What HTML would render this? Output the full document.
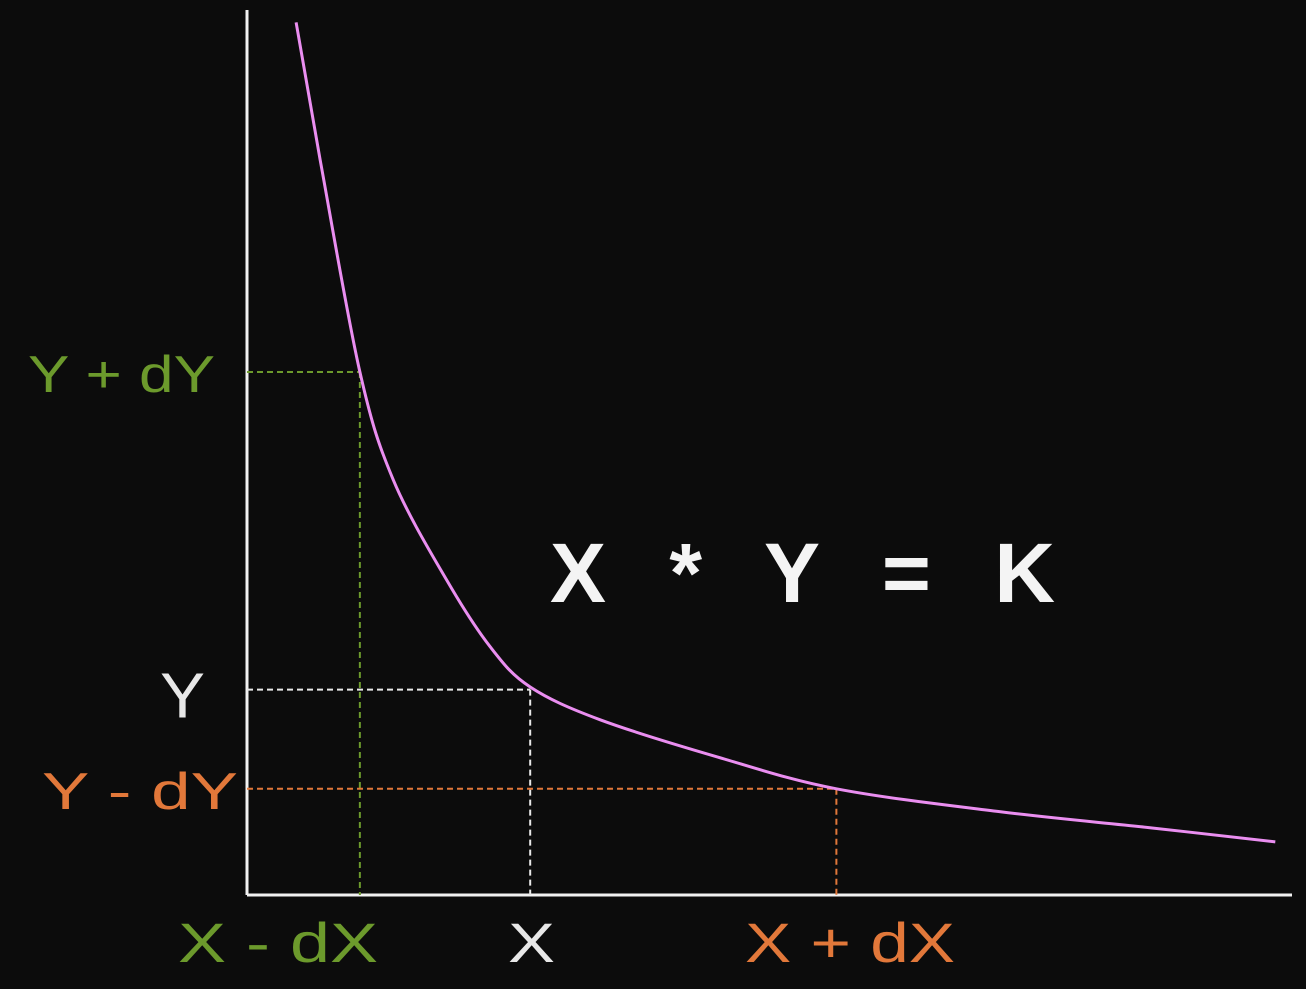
<!DOCTYPE html>
<html><head><meta charset="utf-8"><style>
html,body{margin:0;padding:0;background:#0c0c0c;}
svg{display:block;}
text{font-family:"Liberation Sans",sans-serif;}
</style></head><body>
<svg id="chart" width="1306" height="989" viewBox="0 0 1306 989">
<rect x="0" y="0" width="1306" height="989" fill="#0c0c0c"/>
<g id="plot"></g>
</svg>
<script>
const curveX = [0.47,0.70,1.08,1.40,1.91,2.33,2.71,3.38,4.50,5.64,7.21,8.64,9.84];
const curveY = [9.86,8.31,5.91,4.69,3.56,2.80,2.35,1.98,1.56,1.20,0.94,0.76,0.60];
const markerNames = ['x-minus-dx','x','x-plus-dx'];
const markerX = [1.08,2.71,5.64];
const markerY = [5.91,2.32,1.20];
const markerLabelsX = ['X - dX','X','X + dX'];
const markerLabelsY = ['Y + dY','Y','Y - dY'];
const markerColors = ['#6c9a2c','#e8e8e8','#e2783a'];
const labelXSpan = [[178,378],[508,555],[745,955]];
const labelYSpan = [[28,215],[160,205],[42,238]];

const x0=247,x1=1292,y0=895,y1=10;
const sx=v=>x0+v*(x1-x0)/10;
const sy=v=>y0-v*(y0-y1)/10;
const NS='http://www.w3.org/2000/svg';
const g=document.getElementById('plot');
function mk(tag,attrs){const e=document.createElementNS(NS,tag);for(const k in attrs)e.setAttribute(k,attrs[k]);g.appendChild(e);return e;}

let ya=mk('line',{x1:x0,y1:y1,x2:x0,y2:y0,stroke:'#f2f2f2','stroke-width':3});


let xa=mk('line',{x1:x0,y1:y0,x2:x1,y2:y0,stroke:'#f2f2f2','stroke-width':3});



markerX.forEach((mx,i)=>{
  const px=sx(mx),py=sy(markerY[i]);
  let v=mk('line',{x1:px,y1:py,x2:px,y2:y0,stroke:markerColors[i],'stroke-width':2,'stroke-dasharray':'6,4'});
  
  
  let h=mk('line',{x1:x0,y1:py,x2:px,y2:py,stroke:markerColors[i],'stroke-width':2,'stroke-dasharray':'6,4'});
  
  
  const lx=labelXSpan[i];
  let tx=mk('text',{x:lx[0],y:962,fill:markerColors[i],'font-size':56,textLength:lx[1]-lx[0],lengthAdjust:'spacingAndGlyphs'});
  tx.textContent=markerLabelsX[i];
  
  
  const ly=labelYSpan[i];
  let ty=mk('text',{x:ly[0],y:py+(i===1?28:20),fill:markerColors[i],'font-size':i===1?64:52,textLength:ly[1]-ly[0],lengthAdjust:'spacingAndGlyphs'});
  ty.textContent=markerLabelsY[i];
  
  
});

const pts=curveX.map((v,i)=>[sx(v),sy(curveY[i])]);
let d='M'+pts[0][0].toFixed(1)+','+pts[0][1].toFixed(1);
for(let i=0;i<pts.length-1;i++){
  const p0=pts[Math.max(0,i-1)],p1=pts[i],p2=pts[i+1],p3=pts[Math.min(pts.length-1,i+2)];
  const c1=[p1[0]+(p2[0]-p0[0])/6,p1[1]+(p2[1]-p0[1])/6];
  const c2=[p2[0]-(p3[0]-p1[0])/6,p2[1]-(p3[1]-p1[1])/6];
  d+=' C'+c1.map(n=>n.toFixed(1)).join(',')+' '+c2.map(n=>n.toFixed(1)).join(',')+' '+p2.map(n=>n.toFixed(1)).join(',');
}
let c=mk('path',{d:d,fill:'none',stroke:'#ea8ef0','stroke-width':3,'stroke-linejoin':'round'});



let eq=mk('text',{x:550,y:602,fill:'#f4f4f4','font-size':84,'font-weight':'bold',textLength:505,lengthAdjust:'spacing'});
eq.textContent='X * Y = K';


</script>
</body></html>
